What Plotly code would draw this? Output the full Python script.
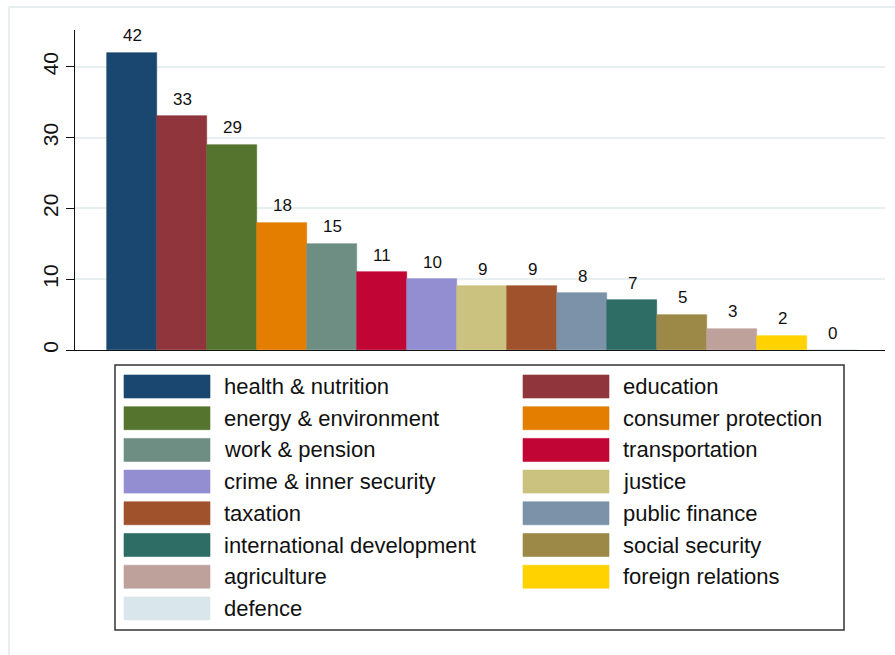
import plotly.graph_objects as go

categories = ["health & nutrition", "education", "energy & environment", "consumer protection",
              "work & pension", "transportation", "crime & inner security", "justice",
              "taxation", "public finance", "international development", "social security",
              "agriculture", "foreign relations", "defence"]
values = [42, 33, 29, 18, 15, 11, 10, 9, 9, 8, 7, 5, 3, 2, 0]
colors = ["#1a476f", "#90353b", "#55752f", "#e37e00", "#6e8e84", "#c10534", "#938dd2",
          "#cac27e", "#a0522d", "#7b92a8", "#2d6d66", "#9c8847", "#bfa19c", "#ffd200", "#d9e6eb"]
y_ticks = [0, 10, 20, 30, 40]

W, H = 895, 655
L, T, PW, PH = 75, 30, 810, 320
FONT = "Liberation Sans, Arial, sans-serif"


def px(x):
    return (x - L) / PW


def py(y):
    return (T + PH - y) / PH


xs = list(range(len(categories)))

fig = go.Figure()
fig.add_trace(go.Bar(
    x=xs, y=values, width=1.0,
    marker=dict(color=colors, line=dict(color=colors, width=0.6)),
    showlegend=False, hoverinfo="skip",
))

for i, v in enumerate(values):
    fig.add_annotation(x=i, y=v, text=str(v), showarrow=False, xref="x", yref="y",
                       yanchor="middle", yshift=17,
                       font=dict(family=FONT, size=17, color="#111"))

shapes = []
# outer light frame
shapes.append(dict(type="line", xref="paper", yref="paper", x0=px(9), x1=px(900), y0=py(7), y1=py(7),
                   line=dict(color="#e6eef0", width=2)))
shapes.append(dict(type="line", xref="paper", yref="paper", x0=px(9), x1=px(9), y0=py(7), y1=py(660),
                   line=dict(color="#e6eef0", width=2)))
# legend box
shapes.append(dict(type="rect", xref="paper", yref="paper", x0=px(115), x1=px(844), y0=py(365), y1=py(630),
                   line=dict(color="#333", width=1.5), fillcolor="white"))
for k, (name, col) in enumerate(zip(categories, colors)):
    r, c = k // 2, k % 2
    sx0 = 124 if c == 0 else 523
    top = 375 + r * 31.7
    shapes.append(dict(type="rect", xref="paper", yref="paper", x0=px(sx0), x1=px(sx0 + 86),
                       y0=py(top), y1=py(top + 23), line=dict(color=col, width=0.6), fillcolor=col))
    fig.add_annotation(x=px(sx0 + 98), y=py(top + 11.5), xref="paper", yref="paper", text=name,
                       showarrow=False, xanchor="left", yanchor="middle",
                       font=dict(family=FONT, size=22, color="#111"))

fig.update_layout(
    width=W, height=H,
    margin=dict(l=L, r=W - L - PW, t=T, b=H - T - PH, pad=0),
    paper_bgcolor="white", plot_bgcolor="white",
    bargap=0, shapes=shapes,
    font=dict(family=FONT, color="#111"),
    xaxis=dict(range=[-1.14, 15.06], showticklabels=False, ticks="", showgrid=False,
               zeroline=False, showline=True, linecolor="#111", linewidth=1.2, fixedrange=True),
    yaxis=dict(range=[0, 45.2], tickvals=y_ticks, ticktext=[str(t) for t in y_ticks],
               tickangle=-90, ticks="outside", ticklen=8, tickcolor="#111", tickwidth=1.2,
               tickfont=dict(family=FONT, size=21, color="#111"),
               showgrid=True, gridcolor="#e8eff1", gridwidth=1.5, zeroline=False,
               showline=True, linecolor="#111", linewidth=1.2, fixedrange=True),
)

fig.write_html("out.html", config={"displayModeBar": False},
               post_script="document.body.style.margin='0px';document.body.style.overflow='hidden';")
